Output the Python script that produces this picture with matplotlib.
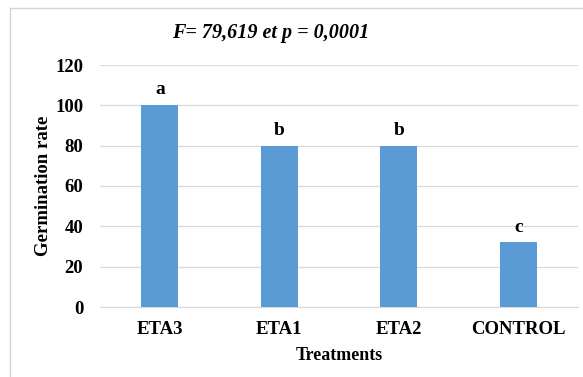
import matplotlib.pyplot as plt
from matplotlib.patches import Rectangle

# data
treatments = ["ETA3", "ETA1", "ETA2", "CONTROL"]
germination = [100, 80, 80, 32]
letters = ["a", "b", "b", "c"]

plt.rcParams['font.family'] = ['Liberation Serif', 'DejaVu Serif']

W, H = 583, 377
fig = plt.figure(figsize=(W / 100, H / 100), dpi=100)

# light frame around the chart area (runs off the right and bottom edges)
fig.patches.append(Rectangle((9.5 / W, -0.1), 1.2, 1.1 - 7.5 / H,
                             transform=fig.transFigure, fill=False,
                             edgecolor='#D4D4D4', linewidth=1.0))

ax = fig.add_axes([100 / W, 1 - 307 / H, 478 / W, 242 / H])
x = range(len(treatments))
ax.bar(x, germination, width=0.31, color='#5B9BD5', zorder=3)

ax.set_xlim(-0.5, 3.5)
ax.set_ylim(0, 120)
ax.set_yticks(range(0, 121, 20))
ax.set_xticks(list(x))
ax.set_xticklabels(treatments, fontsize=13.5, fontweight='bold')
ax.tick_params(axis='y', labelsize=13.5, length=0, pad=12)
ax.tick_params(axis='x', length=0, pad=10)
for lab in ax.get_yticklabels():
    lab.set_fontweight('bold')

ax.grid(axis='y', color='#D9D9D9', linewidth=0.9, zorder=0)
for s in ['top', 'right', 'left']:
    ax.spines[s].set_visible(False)
ax.spines['bottom'].set_color('#D9D9D9')

# significance letters
for i, v in enumerate(germination):
    ax.annotate(letters[i], (i, v), xytext=(0, 5), textcoords='offset points',
                ha='center', va='bottom', fontsize=14, fontweight='bold')

ax.set_xlabel('Treatments', fontsize=13, fontweight='bold')
ax.set_ylabel('Germination rate', fontsize=13.5, fontweight='bold')
ax.xaxis.set_label_coords(0.5, -(356 - 307) / 242, transform=ax.transAxes)
ax.yaxis.set_label_coords(-(100 - 44) / 478, 0.5)
ax.xaxis.label.set_va('center')
ax.yaxis.label.set_va('center')

fig.text(271 / W, 1 - 33 / H, 'F= 79,619 et p = 0,0001', ha='center', va='center',
         fontsize=14.5, fontweight='bold', fontstyle='italic')

fig.savefig('out.png', dpi=100)
